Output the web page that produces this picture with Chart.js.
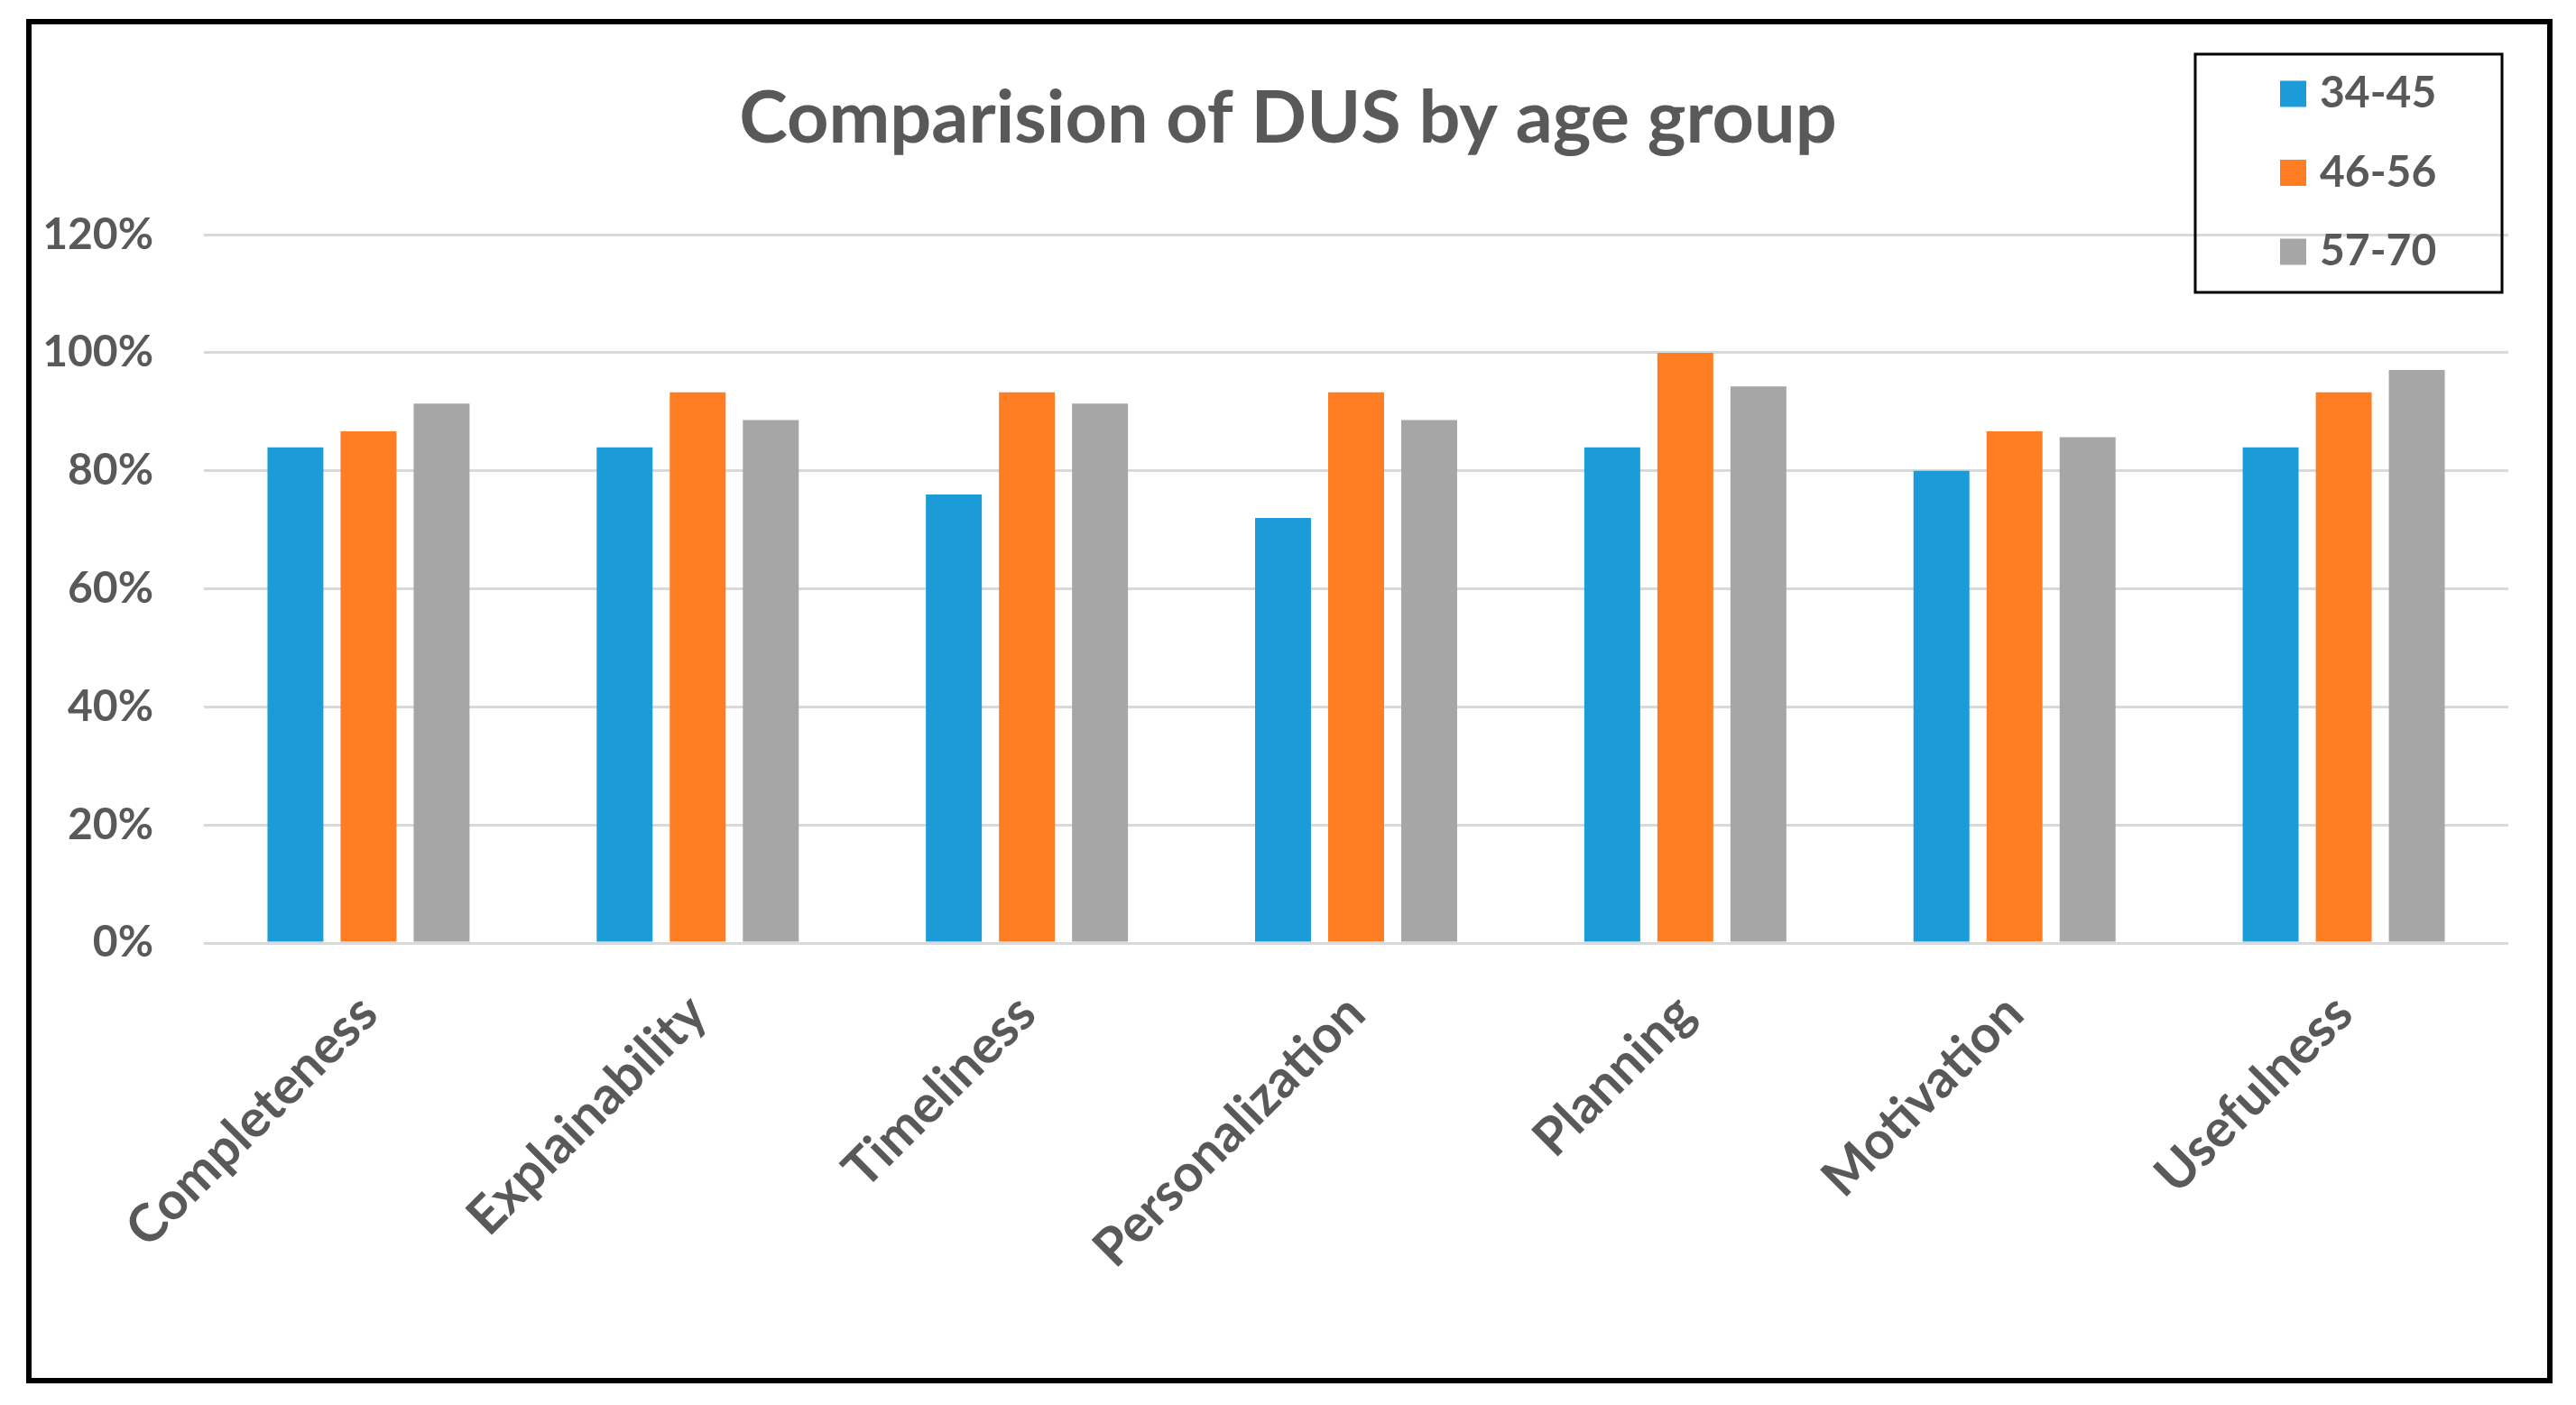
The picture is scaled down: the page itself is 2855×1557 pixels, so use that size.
<!DOCTYPE html>
<html><head><meta charset="utf-8">
<script src="https://cdn.jsdelivr.net/npm/chart.js@4.4.1/dist/chart.umd.min.js"></script>
<style>
html,body{margin:0;padding:0;background:#fff;}
#wrap{position:absolute;left:0;top:0;width:2855px;height:1557px;}
#frame{position:absolute;left:29px;top:21px;width:2800px;height:1512px;border:6px solid #000;box-sizing:border-box;pointer-events:none;}
</style></head><body>
<div id="wrap"><canvas id="c"></canvas></div>
<div id="frame"></div>
<script>
const categories = ['Completeness','Explainability','Timeliness','Personalization','Planning','Motivation','Usefulness'];
const seriesNames = ['34-45','46-56','57-70'];
const age34_45 = [84, 84, 76, 72, 84, 80, 84];
const age46_56 = [86.7, 93.3, 93.3, 93.3, 100, 86.7, 93.3];
const age57_70 = [91.4, 88.6, 91.4, 88.6, 94.3, 85.7, 97.1];
const yTicks = [0, 20, 40, 60, 80, 100, 120];
const titleText = 'Comparision of DUS by age group';

const colors = ['#1B9BD7', '#FF7E24', '#A6A6A6'];
const textColor = '#595959';
Chart.defaults.font.family = 'Lato';

const boxLegend = {
  id: 'boxLegend',
  afterDraw(chart, args, o) {
    const ctx = chart.ctx;
    ctx.save();
    ctx.lineWidth = o.borderWidth;
    ctx.strokeStyle = '#000';
    ctx.strokeRect(o.left, o.top, o.width, o.height);
    ctx.font = 'bold ' + o.fontSize + 'px Lato';
    ctx.textBaseline = 'middle';
    ctx.textAlign = 'left';
    chart.data.datasets.forEach((ds, i) => {
      const cy = o.firstRow + i * o.rowGap;
      ctx.fillStyle = ds.backgroundColor;
      ctx.fillRect(o.boxX, cy - o.boxSize / 2, o.boxSize, o.boxSize);
      ctx.fillStyle = textColor;
      ctx.fillText(ds.label, o.textX, cy);
    });
    ctx.restore();
  }
};

const seriesData = [age34_45, age46_56, age57_70];
new Chart(document.getElementById('c'), {
  type: 'bar',
  data: {
    labels: categories,
    datasets: seriesNames.map((n, i) => ({
      label: n,
      data: seriesData[i],
      backgroundColor: colors[i],
      borderWidth: 0,
      categoryPercentage: 0.666,
      barPercentage: 0.765
    }))
  },
  options: {
    responsive: true,
    maintainAspectRatio: false,
    animation: false,
    layout: { padding: { left: 0, right: 0, top: 0, bottom: 0 } },
    plugins: {
      legend: { display: false },
      tooltip: { enabled: false },
      title: {
        display: true,
        text: titleText,
        color: textColor,
        font: { size: 81, weight: 'bold', family: 'Lato' },
        padding: { top: 83, bottom: 80 }
      },
      boxLegend: {
        left: 2433, top: 60, width: 340, height: 264, borderWidth: 3,
        boxX: 2527, boxSize: 29, textX: 2571, firstRow: 104, rowGap: 87.5, fontSize: 48
      }
    },
    scales: {
      x: {
        grid: { display: false, drawTicks: false },
        border: { display: false },
        ticks: {
          color: textColor,
          font: { size: 58, weight: 'bold' },
          minRotation: 45, maxRotation: 45,
          padding: 44,
          autoSkip: false
        },
        afterFit(scale) { scale.height = 512; }
      },
      y: {
        min: yTicks[0],
        max: yTicks[yTicks.length - 1],
        grid: { color: '#D9D9D9', lineWidth: 3, drawTicks: false },
        border: { display: false },
        ticks: {
          stepSize: yTicks[1] - yTicks[0],
          color: textColor,
          font: { size: 48, weight: 'bold' },
          padding: 56,
          callback: v => v + '%'
        },
        afterFit(scale) { scale.width = 226; }
      },
      yRight: {
        position: 'right',
        min: yTicks[0],
        max: yTicks[yTicks.length - 1],
        grid: { display: false, drawTicks: false },
        border: { display: false },
        ticks: { display: false },
        afterFit(scale) { scale.width = 75; }
      }
    }
  },
  plugins: [boxLegend]
});
</script>
</body></html>
